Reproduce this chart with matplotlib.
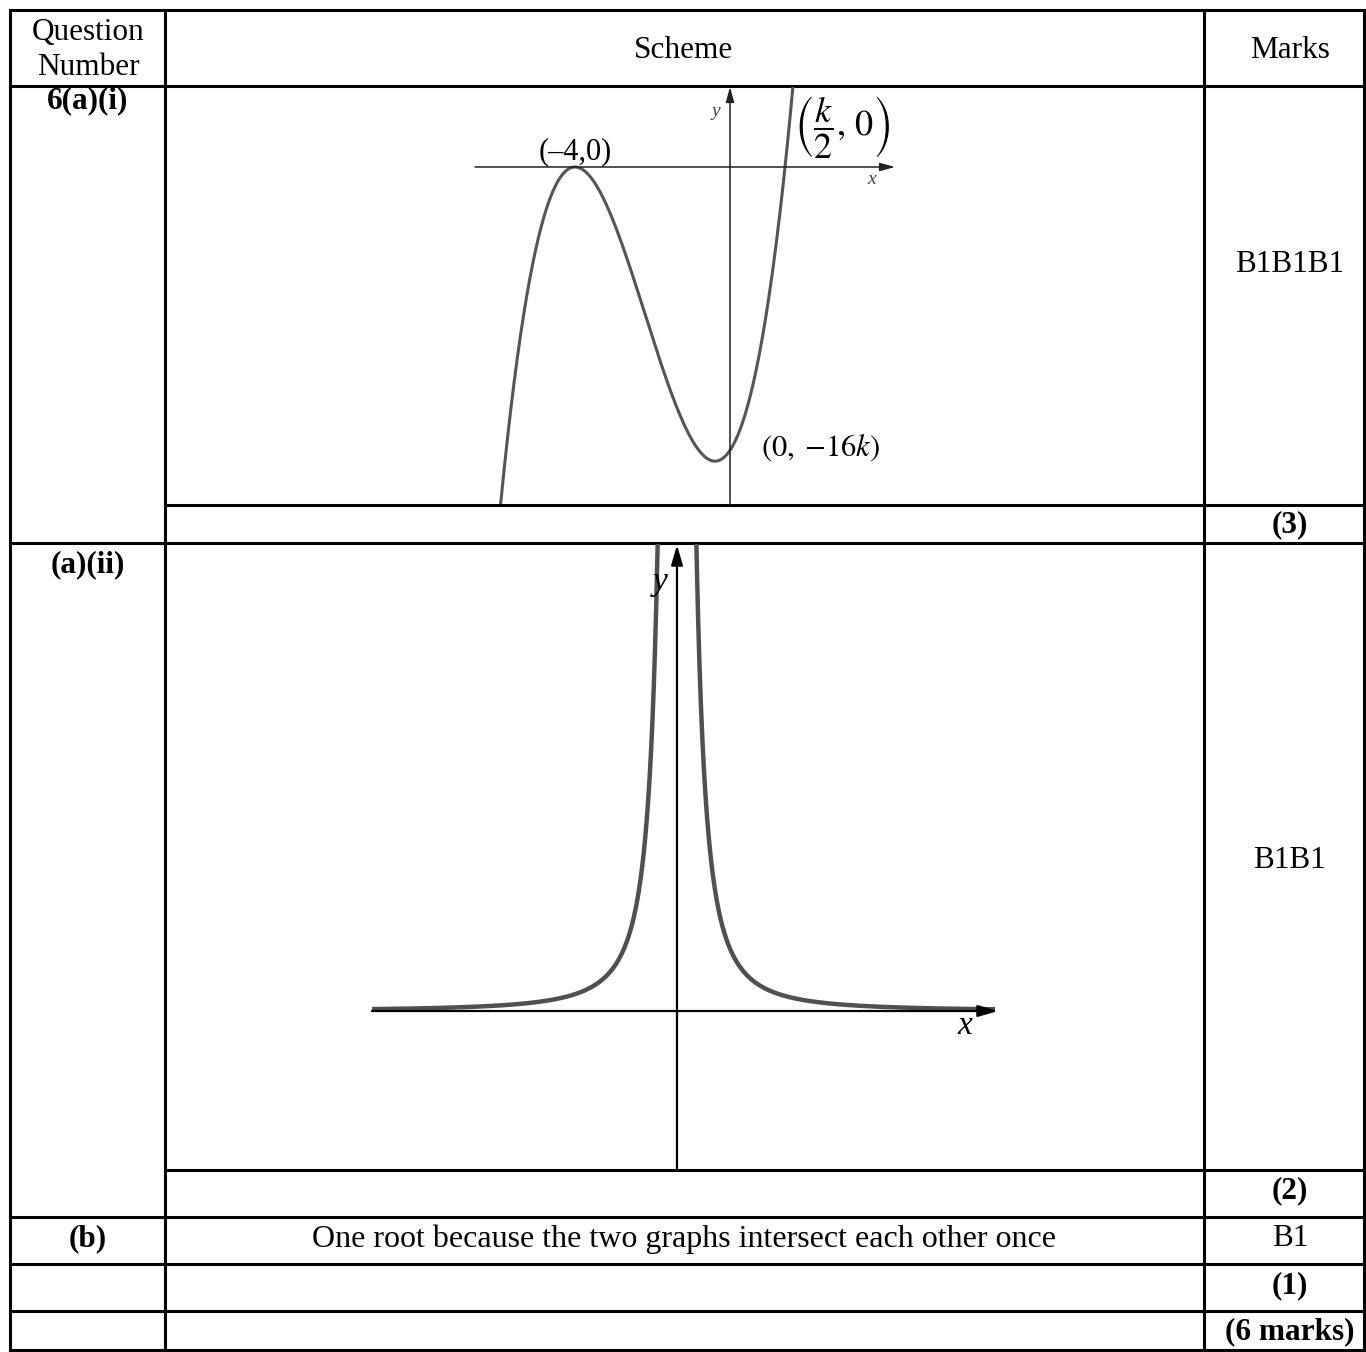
import numpy as np
import matplotlib
matplotlib.use("Agg")
import matplotlib.pyplot as plt

plt.rcParams['font.family'] = ['Liberation Serif', 'DejaVu Serif']
plt.rcParams['mathtext.fontset'] = 'stix'

# ---- data ----
header_labels = ["Question\nNumber", "Scheme", "Marks"]
question_labels = ["6(a)(i)", "(a)(ii)", "(b)"]
marks_labels = ["B1B1B1", "(3)", "B1B1", "(2)", "B1", "(1)", "(6 marks)"]
answer_b = "One root because the two graphs intersect each other once"

# graph (a)(i): y = (x + 4)^2 (2x - k)
cubic_double_root = -4.0
k_value = 2.84
cubic_x_range = (-5.92, 1.65)
point_labels_i = ["(\u20134,0)", r"$\left(\dfrac{k}{2},\,0\right)$", r"$\left(0,\;{-}16k\right)$"]

# graph (a)(ii): y = c / x^2
recip_c = 0.175
recip_x_left = (-3.05, -0.02)
recip_x_right = (0.02, 3.18)

W, H = 1366, 1352
fig = plt.figure(figsize=(W / 100, H / 100), dpi=100)
ax = fig.add_axes([0, 0, 1, 1])
ax.set_xlim(0, W)
ax.set_ylim(H, 0)
ax.axis('off')

lw_t = 2.2
xL, xC1, xC2, xR = 10, 165, 1204, 1364
yT, yB = 10, 1350
for x in (xL, xC1, xC2, xR):
    ax.plot([x, x], [yT, yB], color='black', lw=lw_t, solid_capstyle='projecting')
for y in (yT, 86, 543, 1217, 1264, 1311, yB):
    ax.plot([xL, xR], [y, y], color='black', lw=lw_t, solid_capstyle='projecting')
for y in (505, 1170):
    ax.plot([xC1, xR], [y, y], color='black', lw=lw_t, solid_capstyle='projecting')

fs = 22.5
ax.text(88, 50, header_labels[0], ha='center', va='center', fontsize=fs, linespacing=1.25)
ax.text(684, 50, header_labels[1], ha='center', va='center', fontsize=fs)
ax.text(1290, 50, header_labels[2], ha='center', va='center', fontsize=fs)

ax.text(88, 101, question_labels[0], ha='center', va='center', fontsize=fs, fontweight='bold')
ax.text(88, 565, question_labels[1], ha='center', va='center', fontsize=fs, fontweight='bold')
ax.text(88, 1239, question_labels[2], ha='center', va='center', fontsize=fs, fontweight='bold')

mark_y = [265, 525, 860, 1191, 1239, 1286, 1332]
for lab, y in zip(marks_labels, mark_y):
    bold = lab.startswith('(')
    ax.text(1290, y, lab, ha='center', va='center', fontsize=fs,
            fontweight='bold' if bold else 'normal')

ax.text(684, 1239, answer_b, ha='center', va='center', fontsize=23)


def inset(px_left, px_top, px_right, px_bottom):
    a = fig.add_axes([px_left / W, (H - px_bottom) / H,
                      (px_right - px_left) / W, (px_bottom - px_top) / H])
    a.set_facecolor('none')
    a.axis('off')
    return a

# ---- graph 1 ----
g1 = inset(166, 87, 1203, 504)
sx1, sy1 = 38.75, 12.47
ox1, oy1 = 730, 167
g1.set_xlim((166 - ox1) / sx1, (1203 - ox1) / sx1)
g1.set_ylim((oy1 - 504) / sy1, (oy1 - 87) / sy1)
xs = np.linspace(cubic_x_range[0], cubic_x_range[1], 600)
ys = (xs - cubic_double_root) ** 2 * (2 * xs - k_value) / 2.0
g1.plot(xs, ys, color='#555555', lw=2.2, solid_capstyle='butt')
# axes
ax_col = '#222222'
g1.annotate('', xy=((895 - ox1) / sx1, 0), xytext=((475 - ox1) / sx1, 0),
            arrowprops=dict(arrowstyle='-|>,head_length=0.9,head_width=0.25',
                            color=ax_col, lw=1.1, shrinkA=0, shrinkB=0))
g1.annotate('', xy=(0, (oy1 - 87) / sy1), xytext=(0, (oy1 - 505) / sy1),
            arrowprops=dict(arrowstyle='-|>,head_length=0.9,head_width=0.25',
                            color=ax_col, lw=1.1, shrinkA=0, shrinkB=0))
g1.text((575 - ox1) / sx1, (oy1 - 152) / sy1, point_labels_i[0], ha='center', va='center', fontsize=22)
g1.text((842 - ox1) / sx1, (oy1 - 128) / sy1, point_labels_i[1], ha='center', va='center', fontsize=26)
g1.text((821 - ox1) / sx1, (oy1 - 448) / sy1, point_labels_i[2], ha='center', va='center', fontsize=22)
g1.text((716 - ox1) / sx1, (oy1 - 112) / sy1, 'y', ha='center', va='center', fontsize=14,
        style='italic', color='#444444')
g1.text((872 - ox1) / sx1, (oy1 - 180) / sy1, 'x', ha='center', va='center', fontsize=14,
        style='italic', color='#444444')

# ---- graph 2 ----
g2 = inset(166, 544, 1203, 1169)
s2 = 100.0
ox2, oy2 = 677, 1011
g2.set_xlim((166 - ox2) / s2, (1203 - ox2) / s2)
g2.set_ylim((oy2 - 1169) / s2, (oy2 - 544) / s2)
g2.annotate('', xy=((998 - ox2) / s2, 0), xytext=((372 - ox2) / s2, 0),
            arrowprops=dict(arrowstyle='-|>,head_length=1.2,head_width=0.35',
                            color='black', lw=1.6, shrinkA=0, shrinkB=0))
g2.annotate('', xy=(0, (oy2 - 545) / s2), xytext=(0, (oy2 - 1170) / s2),
            arrowprops=dict(arrowstyle='-|>,head_length=1.2,head_width=0.35',
                            color='black', lw=1.6, shrinkA=0, shrinkB=0))
for lo, hi in (recip_x_left, recip_x_right):
    xr = np.linspace(lo, hi, 2000)
    yr = recip_c / xr ** 2
    g2.plot(xr, yr, color='#505050', lw=3.2, solid_capstyle='butt')
g2.text((660 - ox2) / s2, (oy2 - 582) / s2, 'y', ha='center', va='center', fontsize=24, style='italic')
g2.text((965 - ox2) / s2, (oy2 - 1026) / s2, 'x', ha='center', va='center', fontsize=24, style='italic')

fig.savefig('out.png', dpi=100)
